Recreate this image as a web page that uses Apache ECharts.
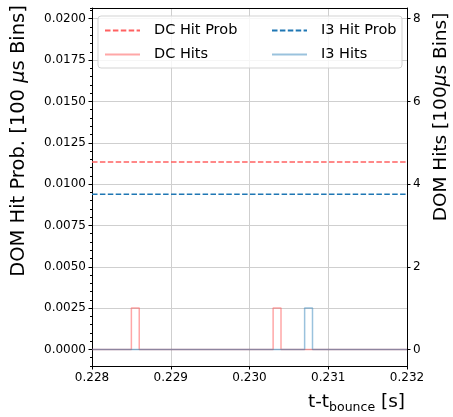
<!DOCTYPE html>
<html>
<head>
<meta charset="utf-8">
<script src="https://cdn.jsdelivr.net/npm/echarts@6/dist/echarts.min.js"></script>
<style>
html, body { margin: 0; padding: 0; background: #fff; }
#chart { width: 453px; height: 417px; }
</style>
</head>
<body>
<div id="chart"></div>
<script>
// tick values
var probTicks = [0, 0.0025, 0.005, 0.0075, 0.01, 0.0125, 0.015, 0.0175, 0.02];
var hitTicks = [0, 2, 4, 6, 8];

// hit probability (flat over the window)
var probTimes = [0.228, 0.232];
var dcHitProb = [0.01133, 0.01133];
var i3HitProb = [0.00938, 0.00938];

// hits per 100us bin (bin start times, counts)
var dcHitTimes = [0.228, 0.2285, 0.2286, 0.2303, 0.2304, 0.232];
var dcHitCounts = [0, 1, 0, 1, 0, 0];
var i3HitTimes = [0.228, 0.2307, 0.2308, 0.232];
var i3HitCounts = [0, 1, 0, 0];

function pairs(xs, ys) {
    return xs.map(function (x, i) { return [x, ys[i]]; });
}

var font = 'DejaVu Sans';
var nameSize = 18.5;
var chart = echarts.init(document.getElementById('chart'));

var legendCommon = {
    orient: 'vertical',
    top: 16,
    itemWidth: 35, itemHeight: 12, itemGap: 9,
    padding: [7, 0, 0, 6],
    itemStyle: { color: 'rgba(0,0,0,0)', borderWidth: 0 },
    textStyle: { fontFamily: font, fontSize: 14.5, color: '#000', padding: [0, 0, 0, 9] }
};

var opt = {
    animation: false,
    textStyle: { fontFamily: font },
    grid: { left: 92, right: 46, top: 8, bottom: 51, containLabel: false, outerBoundsMode: 'none' },
    graphic: [{
        type: 'rect', z: 3,
        shape: { x: 98, y: 16, width: 304, height: 52, r: 3 },
        style: { fill: 'rgba(255,255,255,0.8)', stroke: '#d3d3d3', lineWidth: 1 }
    }],
    legend: [
        Object.assign({ data: ['DC Hit Prob', 'DC Hits'], left: 98 }, legendCommon),
        Object.assign({ data: ['I3 Hit Prob', 'I3 Hits'], left: 265 }, legendCommon)
    ],
    xAxis: [
        {
            type: 'value', min: 0.228, max: 0.232, interval: 0.001,
            name: '{a|t-t}{s|bounce}{a| [s]}',
            nameLocation: 'middle', nameGap: 25,
            nameTextStyle: {
                padding: [0, 0, 0, 214],
                rich: {
                    a: { fontFamily: font, fontSize: nameSize, color: '#000' },
                    s: { fontFamily: font, fontSize: 12.5, color: '#000', verticalAlign: 'bottom', padding: [10, 0, 0, 0] }
                }
            },
            axisLine: { onZero: false, lineStyle: { color: '#000', width: 1 } },
            axisTick: { length: 3.5, lineStyle: { color: '#000' } },
            axisLabel: {
                margin: 6, fontSize: 12, color: '#000',
                formatter: function (v) { return v.toFixed(3); }
            },
            splitLine: { show: true, lineStyle: { color: '#cfcfcf', width: 1 } }
        },
        {
            type: 'value', position: 'top', min: 0.228, max: 0.232,
            axisLine: { onZero: false, lineStyle: { color: '#000', width: 1 } },
            axisTick: { show: false }, axisLabel: { show: false }, splitLine: { show: false }
        }
    ],
    yAxis: [
        {
            type: 'value', position: 'left', min: -0.001, max: 0.02065,
            name: '{a|DOM Hit Prob. [100 }{m|μ}{a|s Bins]}',
            nameLocation: 'middle', nameGap: 63,
            nameTextStyle: {
                padding: [0, 0, 0, 92],
                rich: {
                    a: { fontFamily: font, fontSize: 19.5, color: '#000' },
                    m: { fontFamily: font, fontSize: 19.5, color: '#000', fontStyle: 'italic' }
                }
            },
            axisLine: { onZero: false, lineStyle: { color: '#000', width: 1 } },
            axisTick: { length: 3.5, customValues: probTicks, lineStyle: { color: '#000' } },
            axisLabel: {
                customValues: probTicks, margin: 6, fontSize: 12, color: '#000',
                formatter: function (v) { return v.toFixed(4); }
            },
            splitLine: { show: true, lineStyle: { color: '#cfcfcf', width: 1 } }
        },
        {
            // minor ticks on the left
            type: 'value', position: 'left', min: -0.001, max: 0.02065, interval: 0.0005,
            axisLine: { show: false },
            axisTick: { length: 2, lineStyle: { color: '#000' } },
            axisLabel: { show: false },
            splitLine: { show: false }
        },
        {
            type: 'value', position: 'right', min: -0.4, max: 8.26,
            name: '{a|DOM Hits [100}{m|μ}{a|s Bins]}',
            nameLocation: 'middle', nameGap: 23,
            nameTextStyle: {
                padding: [0, 0, 0, 140],
                rich: {
                    a: { fontFamily: font, fontSize: nameSize, color: '#000' },
                    m: { fontFamily: font, fontSize: nameSize, color: '#000', fontStyle: 'italic' }
                }
            },
            axisLine: { onZero: false, lineStyle: { color: '#000', width: 1 } },
            axisTick: { length: 3.5, customValues: hitTicks, lineStyle: { color: '#000' } },
            axisLabel: { customValues: hitTicks, margin: 6, fontSize: 12, color: '#000' },
            splitLine: { show: false }
        }
    ],
    series: [
        {
            name: 'DC Hit Prob', type: 'line', yAxisIndex: 0, symbol: 'none',
            data: pairs(probTimes, dcHitProb),
            lineStyle: { color: '#ff6161', width: 1.5, type: [5.5, 2.4] },
            itemStyle: { color: '#ff6161' }
        },
        {
            name: 'DC Hits', type: 'line', yAxisIndex: 2, symbol: 'none', step: 'end',
            data: pairs(dcHitTimes, dcHitCounts),
            lineStyle: { color: '#ff5050', width: 1.5, opacity: 0.5 },
            itemStyle: { color: '#ff9a9a' }
        },
        {
            name: 'I3 Hit Prob', type: 'line', yAxisIndex: 0, symbol: 'none',
            data: pairs(probTimes, i3HitProb),
            lineStyle: { color: '#1f77b4', width: 1.5, type: [5.5, 2.4] },
            itemStyle: { color: '#1f77b4' }
        },
        {
            name: 'I3 Hits', type: 'line', yAxisIndex: 2, symbol: 'none', step: 'end',
            data: pairs(i3HitTimes, i3HitCounts),
            lineStyle: { color: '#1f77b4', width: 1.5, opacity: 0.45 },
            itemStyle: { color: '#93bedc' }
        }
    ]
};
chart.setOption(opt);
</script>
</body>
</html>
